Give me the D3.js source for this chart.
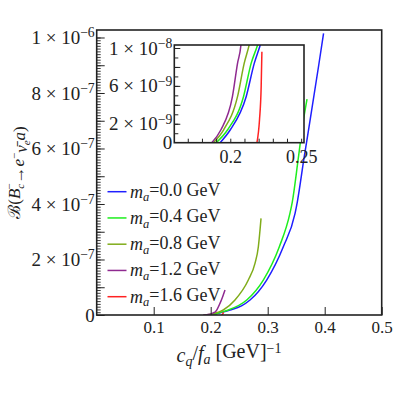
<!DOCTYPE html>
<html><head><meta charset="utf-8">
<script src="https://cdn.jsdelivr.net/npm/d3@7"></script>
<style>
body{margin:0;background:#fff}
svg{display:block}
text{font-family:"Liberation Serif","Times New Roman",serif;fill:#222}
</style>
</head><body>
<svg id="c" width="395" height="395"></svg>
<script>
// ---- data ----
const massLabels = ["0.0", "0.4", "0.8", "1.2", "1.6"];
const ma00 = [[0.1928,0],[0.1999,1.34e-9],[0.2112,4.86e-9],[0.2169,8.38e-9],[0.2211,1.03e-8],[0.234,1.8e-8],[0.254,3.3e-8],[0.269,5.4e-8],[0.2982,1.26e-7],[0.3274,2.46e-7],[0.348,3.66e-7],[0.352,4.08e-7],[0.3637,5.65e-7],[0.375,7.1e-7],[0.3895,9.0e-7],[0.398,1.015e-6]];
const ma04 = [[0.190,0],[0.1980,1.34e-9],[0.2093,4.86e-9],[0.2147,8.38e-9],[0.2192,1.03e-8],[0.231,1.8e-8],[0.2632,5.4e-8],[0.2923,1.26e-7],[0.3204,2.46e-7],[0.339,3.66e-7],[0.3432,4.08e-7],[0.3537,5.65e-7],[0.3614,6.85e-7],[0.369,7.78e-7]];
const ma08 = [[0.188,0],[0.1952,1.34e-9],[0.2051,4.86e-9],[0.2098,8.38e-9],[0.2133,1.03e-8],[0.222,1.8e-8],[0.2426,5.4e-8],[0.266,1.26e-7],[0.2777,1.86e-7],[0.2836,2.46e-7],[0.2865,3.06e-7],[0.2883,3.48e-7]];
const ma12 = [[0.1869,0],[0.1933,1.34e-9],[0.2015,4.86e-9],[0.2051,8.38e-9],[0.2075,1.03e-8],[0.2100,1.6e-8],[0.2163,4.2e-8],[0.221,6.6e-8],[0.2251,9.0e-8]];
const ma16 = [[0.2188,0],[0.2206,2.4e-9],[0.2218,6.0e-9],[0.2223,9.6e-9]];
const seriesData = [ma00, ma04, ma08, ma12, ma16];

const mainXTicks = [0.1, 0.2, 0.3, 0.4, 0.5];
const mainYTicks = [0, 2e-7, 4e-7, 6e-7, 8e-7, 1e-6];
const insetXTicks = [0.2, 0.25];
const insetYTicks = [0, 2e-9, 6e-9, 1e-8];

// ---- styles ----
const colors = ["#1f1fff", "#1eee1e", "#80ac1a", "#8f2a90", "#ff2222"];
const frameColor = "#222";

const svg = d3.select("#c");

// main scales
const x = d3.scaleLinear().domain([0, 0.5]).range([96.7, 381.7]);
const y = d3.scaleLinear().domain([0, 1.027e-6]).range([315, 30]);
// inset scales
const xi = d3.scaleLinear().domain([0.1605, 0.252]).range([174.3, 304]);
const yi = d3.scaleLinear().domain([0, 1.0317e-8]).range([142.7, 45]);

const defs = svg.append("defs");
defs.append("clipPath").attr("id", "clipMain").append("rect")
  .attr("x", x(0)).attr("y", y(1.027e-6)).attr("width", x(0.5) - x(0)).attr("height", y(0) - y(1.027e-6));
defs.append("clipPath").attr("id", "clipInset").append("rect")
  .attr("x", xi(0.1605)).attr("y", yi(1.0317e-8)).attr("width", xi(0.252) - xi(0.1605)).attr("height", yi(0) - yi(1.0317e-8));

function sciLabel(sel, v, fs) {
  sel.text(null);
  if (v === 0) { sel.append("tspan").text("0"); return; }
  const e = Math.floor(Math.log10(v) + 1e-9);
  const m = Math.round(v / Math.pow(10, e));
  sel.append("tspan").text(m + " × 10");
  sel.append("tspan").attr("dy", "-0.5em").attr("font-size", (fs * 0.72) + "px").text("\u2212" + (-e));
}

// ---- main curves ----
const lineMain = d3.line().x(d => x(d[0])).y(d => y(d[1])).curve(d3.curveMonotoneX);
const gMain = svg.append("g").attr("clip-path", "url(#clipMain)");
seriesData.forEach((s, i) => {
  gMain.append("path").attr("d", lineMain(s)).attr("fill", "none")
    .attr("stroke", colors[i]).attr("stroke-width", 1.5);
});

// main axes
const fsTick = 17;
const fsSci = 19;
const ax = svg.append("g").attr("transform", `translate(0,${y(0)})`)
  .call(d3.axisBottom(x).tickValues(mainXTicks).tickSizeInner(-8).tickSizeOuter(0).tickPadding(6).tickFormat(d3.format(".1f")));
ax.select(".domain").remove();
ax.selectAll("line").attr("stroke", frameColor).attr("stroke-width", 1);
ax.selectAll("text").attr("font-size", fsTick + "px").attr("font-family", "Liberation Serif").attr("fill", "#222");

const ayMinor = svg.append("g").attr("transform", `translate(${x(0)},0)`)
  .call(d3.axisLeft(y).tickValues(d3.range(0, 101).map(k => k * 1e-8)).tickSize(-4).tickFormat(""));
ayMinor.select(".domain").remove();
ayMinor.selectAll("line").attr("stroke", frameColor).attr("stroke-width", 0.9);
const ayMid = svg.append("g").attr("transform", `translate(${x(0)},0)`)
  .call(d3.axisLeft(y).tickValues(d3.range(0, 11).map(k => k * 1e-7)).tickSize(-8).tickFormat(""));
ayMid.select(".domain").remove();
ayMid.selectAll("line").attr("stroke", frameColor).attr("stroke-width", 1);
const ay = svg.append("g").attr("transform", `translate(${x(0)},0)`)
  .call(d3.axisLeft(y).tickValues(mainYTicks).tickSize(0).tickPadding(2));
ay.select(".domain").remove();
ay.selectAll("text").attr("font-size", fsSci + "px").attr("font-family", "Liberation Serif").attr("fill", "#222")
  .each(function(d) { sciLabel(d3.select(this), d, fsSci); });

// main frame
svg.append("rect").attr("x", x(0)).attr("y", y(1.027e-6)).attr("width", x(0.5) - x(0)).attr("height", y(0) - y(1.027e-6))
  .attr("fill", "none").attr("stroke", frameColor).attr("stroke-width", 1.6);

// ---- legend ----
const leg = svg.append("g");
massLabels.forEach((lab, i) => {
  const ly = 191.7 + i * 26.25;
  leg.append("line").attr("x1", 107.5).attr("x2", 126.5).attr("y1", ly).attr("y2", ly)
    .attr("stroke", colors[i]).attr("stroke-width", 1.5);
  const t = leg.append("text").attr("x", 130).attr("y", ly + 6).attr("font-size", "18px");
  t.append("tspan").attr("font-style", "italic").text("m");
  t.append("tspan").attr("font-style", "italic").attr("font-size", "12.5px").attr("dy", "0.3em").text("a");
  t.append("tspan").attr("dy", "-0.3em").text("=" + lab + " GeV");
});

// ---- inset ----
const inset = svg.append("g");
inset.append("rect").attr("x", xi(0.1605)).attr("y", yi(1.0317e-8)).attr("width", xi(0.252) - xi(0.1605)).attr("height", yi(0) - yi(1.0317e-8))
  .attr("fill", "#fff");
const lineInset = d3.line().x(d => xi(d[0])).y(d => yi(d[1])).curve(d3.curveMonotoneX);
const gIn = inset.append("g").attr("clip-path", "url(#clipInset)");
seriesData.forEach((s, i) => {
  gIn.append("path").attr("d", lineInset(s)).attr("fill", "none")
    .attr("stroke", colors[i]).attr("stroke-width", 1.5);
});
const axi = inset.append("g").attr("transform", `translate(0,${yi(0)})`)
  .call(d3.axisBottom(xi).tickValues(d3.range(17, 26).map(k => k / 100)).tickSizeInner(-4).tickSizeOuter(0).tickFormat(""));
axi.select(".domain").remove();
axi.selectAll("line").attr("stroke", frameColor);
const axiL = inset.append("g").attr("transform", `translate(0,${yi(0)})`)
  .call(d3.axisBottom(xi).tickValues(insetXTicks).tickSize(0).tickPadding(8).tickFormat(d => String(d)));
axiL.select(".domain").remove();
axiL.selectAll("text").attr("font-size", "18px").attr("font-family", "Liberation Serif").attr("fill", "#222");

const ayiMinor = inset.append("g").attr("transform", `translate(${xi(0.1605)},0)`)
  .call(d3.axisLeft(yi).tickValues(d3.range(1, 11).map(k => k * 1e-9)).tickSize(-4).tickFormat(""));
ayiMinor.select(".domain").remove();
ayiMinor.selectAll("line").attr("stroke", frameColor);
const ayiMaj = inset.append("g").attr("transform", `translate(${xi(0.1605)},0)`)
  .call(d3.axisLeft(yi).tickValues(d3.range(1, 6).map(k => k * 2e-9)).tickSize(-6).tickFormat(""));
ayiMaj.select(".domain").remove();
ayiMaj.selectAll("line").attr("stroke", frameColor);
const ayi = inset.append("g").attr("transform", `translate(${xi(0.1605)},0)`)
  .call(d3.axisLeft(yi).tickValues(insetYTicks).tickSize(0).tickPadding(2));
ayi.select(".domain").remove();
ayi.selectAll("text").attr("font-size", fsSci + "px").attr("font-family", "Liberation Serif").attr("fill", "#222")
  .each(function(d) { sciLabel(d3.select(this), d, fsSci); });

inset.append("rect").attr("x", xi(0.1605)).attr("y", yi(1.0317e-8)).attr("width", xi(0.252) - xi(0.1605)).attr("height", yi(0) - yi(1.0317e-8))
  .attr("fill", "none").attr("stroke", frameColor).attr("stroke-width", 1.6);

// ---- axis titles ----
const xt = svg.append("text").attr("x", 229).attr("y", 362).attr("text-anchor", "middle").attr("font-size", "20px");
xt.append("tspan").attr("font-style", "italic").text("c");
xt.append("tspan").attr("font-style", "italic").attr("font-size", "14px").attr("dy", "0.3em").text("q");
xt.append("tspan").attr("dy", "-0.3em").text("/");
xt.append("tspan").attr("font-style", "italic").text("f");
xt.append("tspan").attr("font-style", "italic").attr("font-size", "14px").attr("dy", "0.3em").text("a");
xt.append("tspan").attr("dy", "-0.3em").text(" [GeV]");
xt.append("tspan").attr("font-size", "14px").attr("dy", "-0.42em").text("\u22121");

const yt = svg.append("text").attr("transform", "translate(20,172.5) rotate(-90)").attr("text-anchor", "middle").attr("font-size", "17px");
yt.append("tspan").text("\u212C(");
yt.append("tspan").attr("font-style", "italic").text("B");
yt.append("tspan").attr("font-style", "italic").attr("font-size", "11px").attr("dy", "0.35em").text("c");
yt.append("tspan").attr("font-size", "11px").attr("dx", "-6").attr("dy", "-0.95em").text("\u2212");
yt.append("tspan").attr("dy", "0.6em").text("\u2192");
yt.append("tspan").attr("font-style", "italic").text("e");
yt.append("tspan").attr("font-size", "11px").attr("dy", "-0.5em").text("\u2212");
yt.append("tspan").attr("font-style", "italic").attr("dy", "0.5em").text("\u03BD\u0304");
yt.append("tspan").attr("font-style", "italic").attr("font-size", "11px").attr("dy", "0.35em").text("e");
yt.append("tspan").attr("font-style", "italic").attr("dy", "-0.35em").text("a");
yt.append("tspan").text(")");
</script>
</body></html>
